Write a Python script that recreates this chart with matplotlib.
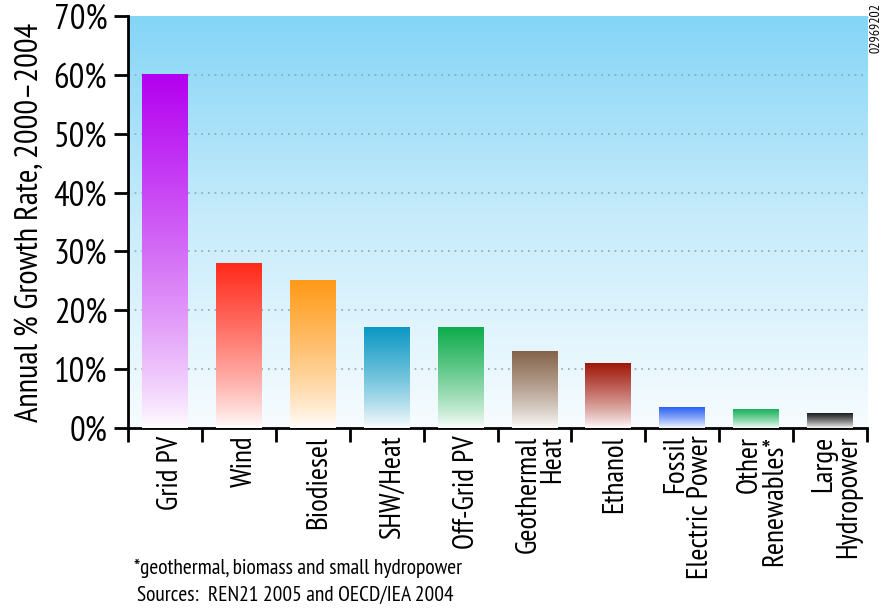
import matplotlib.pyplot as plt
import numpy as np
from matplotlib.colors import LinearSegmentedColormap
from matplotlib.ticker import PercentFormatter

# annual growth rate 2000-2004, percent
categories = ['Grid PV', 'Wind', 'Biodiesel', 'SHW/Heat', 'Off-Grid PV',
              'Geothermal\nHeat', 'Ethanol', 'Fossil\nElectric Power',
              'Other\nRenewables*', 'Large\nHydropower']
growth = [60, 28, 25, 17, 17, 13, 11, 3.5, 3.2, 2.5]
bar_colors = ['#b400f0', '#ff2a1a', '#ff9a18', '#0c98c4', '#0eac4c',
              '#86644a', '#a0180a', '#2a62f2', '#18b05a', '#1c1c1c']

plt.rcParams['font.family'] = ['PT Sans Narrow', 'DejaVu Sans']

fig = plt.figure(figsize=(8.87, 6.08), dpi=100)
ax = fig.add_axes([0.1443, 0.296, 0.8332, 0.6777])

x = np.arange(len(categories))
bars = ax.bar(x, growth, width=0.62, color='none', zorder=3)

# sky-blue background fading to white
bg = LinearSegmentedColormap.from_list('bg', ['#f7fcff', '#c8ecfb', '#84d5f7'])
ax.imshow(np.linspace(0, 1, 256).reshape(-1, 1), cmap=bg, origin='lower',
          extent=[0, 1, 0, 1], transform=ax.transAxes, aspect='auto', zorder=0)

# each bar fades from its colour at the top to white at the bottom
grad = np.linspace(0, 1, 256).reshape(-1, 1)
for patch, c in zip(bars, bar_colors):
    x0, y0 = patch.get_x(), patch.get_y()
    w, h = patch.get_width(), patch.get_height()
    cm = LinearSegmentedColormap.from_list('b', ['#ffffff', c])
    ax.imshow(grad ** 0.8, cmap=cm, origin='lower', aspect='auto',
              extent=[x0, x0 + w, y0, y0 + h], zorder=3)

ax.set_xlim(-0.5, len(categories) - 0.5)
ax.set_ylim(0, 70)

for yv in range(10, 70, 10):
    ax.axhline(yv, color='#8aa8b4', linestyle=(0, (1, 3)), linewidth=1.2, zorder=1)

for s in ['top', 'right']:
    ax.spines[s].set_visible(False)
for s in ['left', 'bottom']:
    ax.spines[s].set_linewidth(2)

ax.set_yticks(range(0, 80, 10))
ax.yaxis.set_major_formatter(PercentFormatter(decimals=0))
ax.tick_params(axis='y', length=10, width=2, labelsize=25, pad=5)

ax.set_xticks(np.arange(len(categories) + 1) - 0.5)
ax.set_xticklabels([])
ax.tick_params(axis='x', length=10, width=2)
for xi, lab in zip(x, categories):
    ax.text(xi + 0.08, -1.3, lab, rotation=90, ha='center', va='top',
            multialignment='right', fontsize=21, linespacing=0.9)

ax.set_ylabel('Annual % Growth Rate, 2000\u20132004', fontsize=23.5, labelpad=6)

fig.text(0.151, 0.056, '*geothermal, biomass and small hydropower', fontsize=15.5)
fig.text(0.155, 0.012, 'Sources:  REN21 2005 and OECD/IEA 2004', fontsize=15.5)
fig.text(0.988, 0.995, '02969202', rotation=90, ha='center', va='top', fontsize=10)

fig.savefig('out.png', dpi=100)
